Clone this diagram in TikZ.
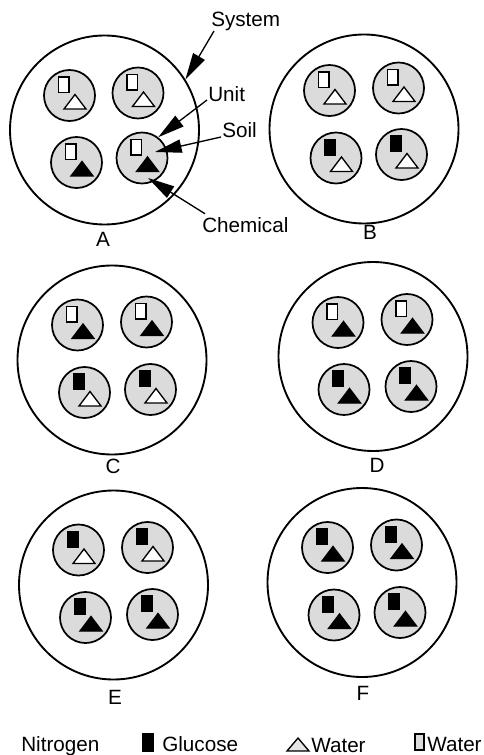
\documentclass[tikz,border=0pt]{standalone}
\usepackage{fontspec}
\setmainfont{Liberation Sans}
\usetikzlibrary{arrows.meta}
\begin{document}
\begin{tikzpicture}[x=0.75pt,y=-0.75pt,
  sys/.style={circle,draw,line width=1.4pt,minimum size=141.75pt,inner sep=0pt},
  unitc/.style={circle,draw,line width=1.3pt,fill=black!14,minimum size=38.25pt,inner sep=0pt},
  rectst/.style={draw,line width=1pt},
  trist/.style={draw,line width=1pt,line join=miter},
  lab/.style={font=\fontsize{15.5}{18}\selectfont,inner sep=0pt},
  arr/.style={line width=1pt,-{Triangle[length=20pt,width=10pt]}},
  pics/unit/.style 2 args={code={
    \node[unitc] (-c) at (0,0) {};
    \draw[rectst,fill=#1] (-11,-18.5) rectangle (-0.5,-3);
    \draw[trist,fill=#2] (5.5,-1) -- (16.5,13.5) -- (-5.5,13.5) -- cycle;
  }}
]
\useasboundingbox (0,0) rectangle (484,755);

% systems
\node[sys] (A) at (104.5,130) {};
\node[sys] (B) at (364,129) {};
\node[sys] (C) at (112,360) {};
\node[sys] (D) at (373,356.5) {};
\node[sys] (E) at (113.5,585) {};
\node[sys] (F) at (362,582.5) {};

% units A
\pic (a1) at (69.5,95.5) {unit={white}{white}};
\pic (a2) at (138,93) {unit={white}{white}};
\pic (a3) at (76.5,162.5) {unit={white}{black}};
\pic (a4) at (142,158) {unit={white}{black}};
% units B
\pic (b1) at (329.5,90.5) {unit={white}{white}};
\pic (b2) at (398.5,88) {unit={white}{white}};
\pic (b3) at (336,158) {unit={black}{white}};
\pic (b4) at (401.5,154.5) {unit={black}{white}};
% units C
\pic (c1) at (77.5,325) {unit={white}{black}};
\pic (c2) at (146.5,322) {unit={white}{black}};
\pic (c3) at (84.5,392.5) {unit={black}{white}};
\pic (c4) at (150.5,389.5) {unit={black}{white}};
% units D
\pic (d1) at (338,322.5) {unit={white}{black}};
\pic (d2) at (407,319.5) {unit={white}{black}};
\pic (d3) at (344,389.5) {unit={black}{black}};
\pic (d4) at (411,386.5) {unit={black}{black}};
% units E
\pic (e1) at (78.5,550) {unit={black}{white}};
\pic (e2) at (147.5,547.5) {unit={black}{white}};
\pic (e3) at (85.5,617.5) {unit={black}{black}};
\pic (e4) at (152.5,614.5) {unit={black}{black}};
% units F
\pic (f1) at (327.5,547.5) {unit={black}{black}};
\pic (f2) at (396.5,545) {unit={black}{black}};
\pic (f3) at (334,615) {unit={black}{black}};
\pic (f4) at (400,612.5) {unit={black}{black}};

% system letters
\node[lab,anchor=base] (lA) at (103,247) {A};
\node[lab,anchor=base] (lB) at (370,240) {B};
\node[lab,anchor=base] (lC) at (113,473) {C};
\node[lab,anchor=base] (lD) at (377,472) {D};
\node[lab,anchor=base] (lE) at (115,704) {E};
\node[lab,anchor=base] (lF) at (363,700) {F};

% callouts
\node[lab,anchor=base west] (lsys) at (211,27) {System};
\node[lab,anchor=base west] (lunit) at (208,102) {Unit};
\node[lab,anchor=base west] (lsoil) at (222,138) {Soil};
\node[lab,anchor=base west] (lchem) at (202,233) {Chemical};
\coordinate (soiltip) at (155,152);
\coordinate (chemtip) at (148,178);
\draw[arr] ([shift={(3,4)}]lsys.base west) -- (A.32);
\draw[arr] ([shift={(-1,-2)}]lunit.base west) -- (a4-c.52);
\draw[arr] ([shift={(-1,-1)}]lsoil.base west) -- (soiltip);
\draw[arr] ([shift={(3,-4)}]lchem.north west) -- (chemtip);

% legend
\node[lab,anchor=base west] (lnit) at (21,751) {Nitrogen};
\node[draw,fill=black,line width=0.6pt,inner sep=0pt,minimum width=8.25pt,minimum height=13.5pt] (kglu) at (147.5,742) {};
\node[lab,anchor=base west] (lglu) at (162,751) {Glucose};
\draw[trist,fill=black!10] (298,738) -- (309,751) -- (287,751) -- cycle;
\node[lab,anchor=base west] (lw1) at (311,752) {Water};
\node[draw,fill=black!14,line width=0.9pt,inner sep=0pt,minimum width=6.75pt,minimum height=12pt] (kwat) at (419.5,742) {};
\node[lab,anchor=base west] (lw2) at (427,751) {Water};
\end{tikzpicture}
\end{document}
